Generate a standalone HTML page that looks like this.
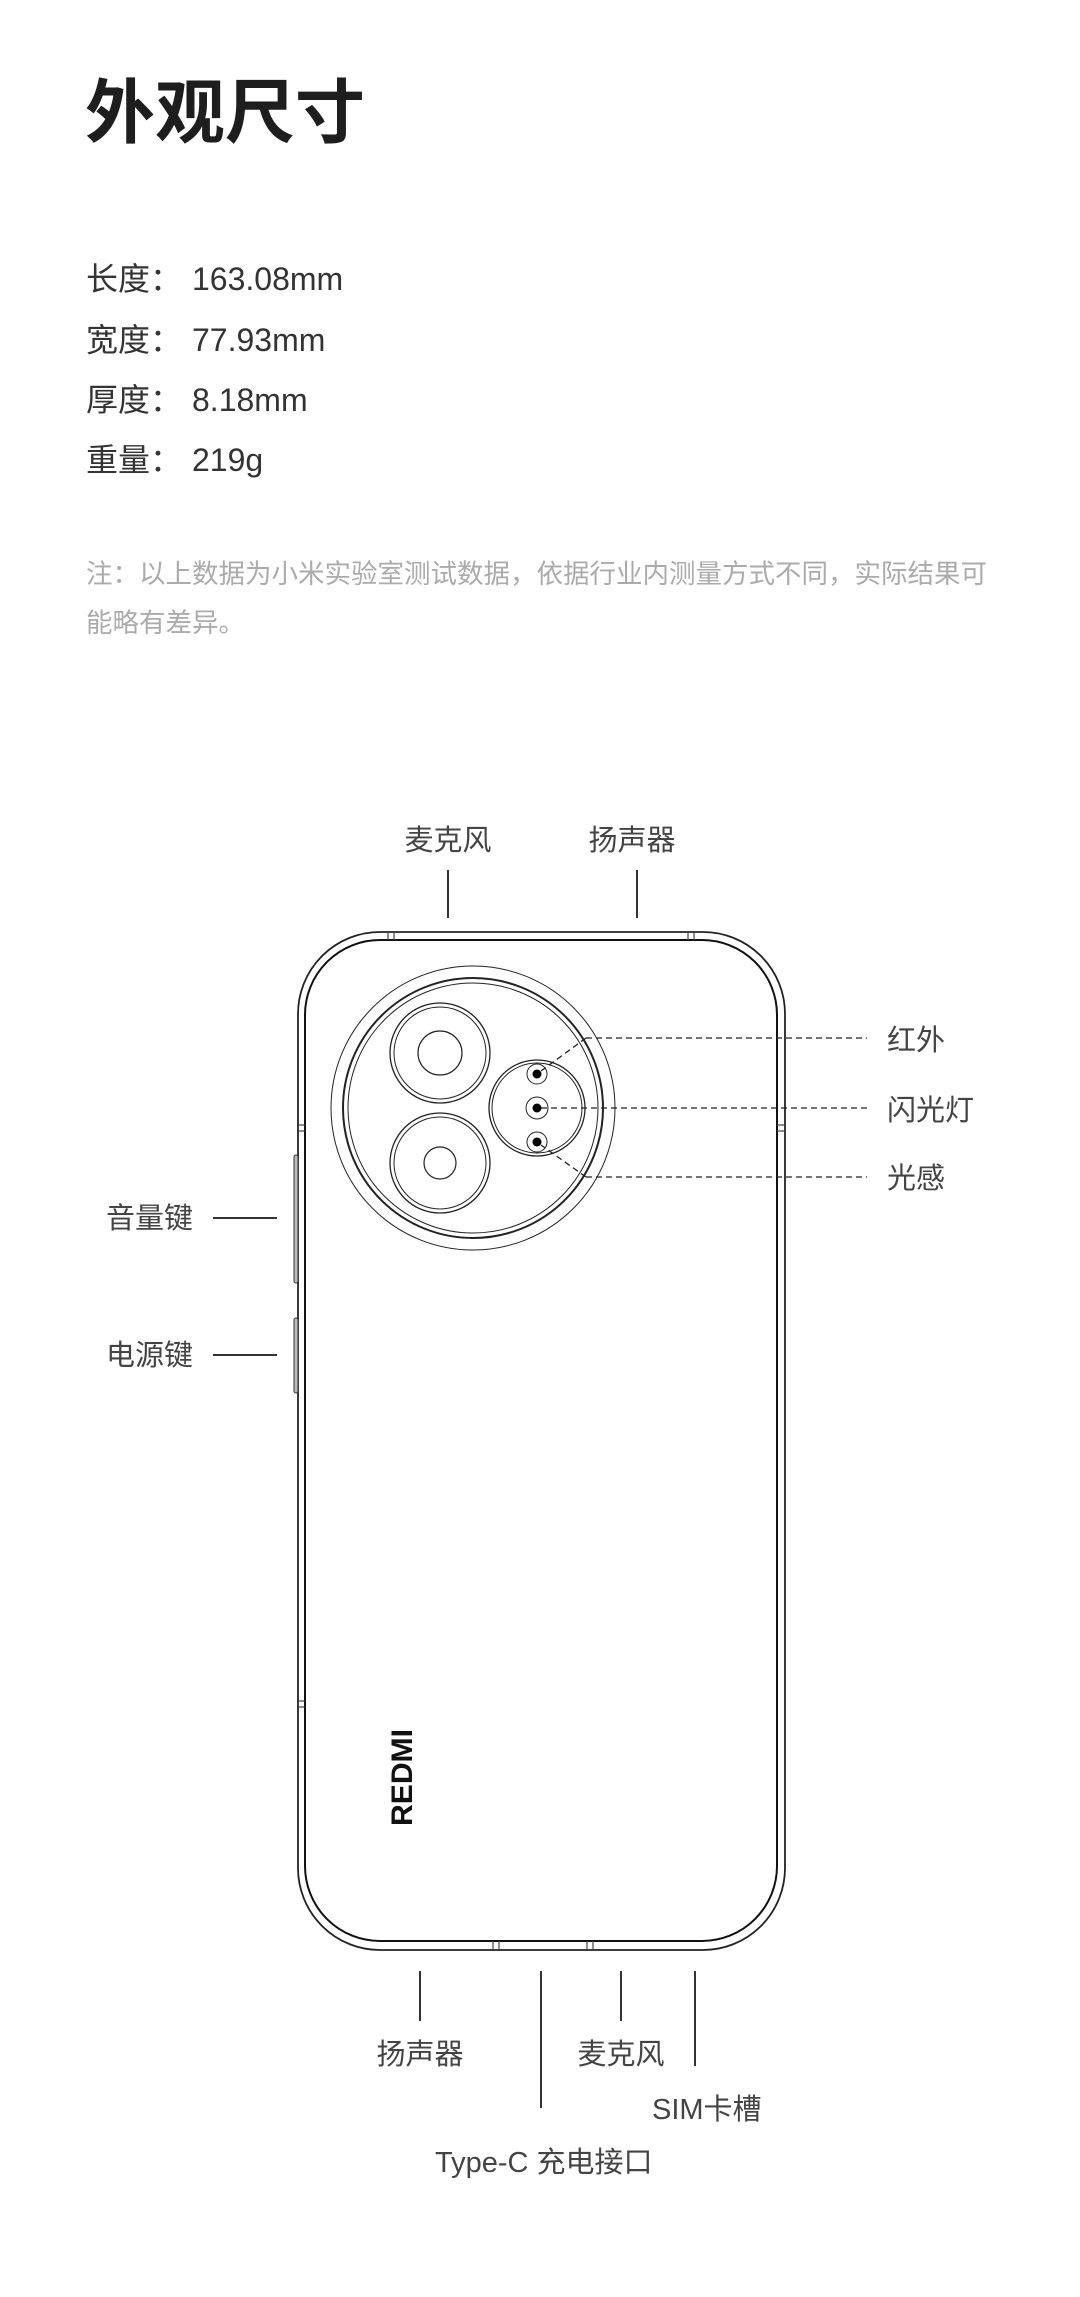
<!DOCTYPE html>
<html><head><meta charset="utf-8"><style>
html,body{margin:0;padding:0;background:#fff;}
svg{display:block;}
text{font-family:"Liberation Sans","Noto Sans CJK SC",sans-serif;}
</style></head><body>
<svg width="1080" height="2297" viewBox="0 0 1080 2297" xmlns="http://www.w3.org/2000/svg">
<rect width="1080" height="2297" fill="#fff"/>
<text x="85" y="137" font-size="70" font-weight="bold" fill="#1e1e1e">外观尺寸</text>
<g font-size="32" fill="#333">
<text x="86" y="290">长度：</text><text x="192" y="290">163.08mm</text>
<text x="86" y="351">宽度：</text><text x="192" y="351">77.93mm</text>
<text x="86" y="411">厚度：</text><text x="192" y="411">8.18mm</text>
<text x="86" y="471">重量：</text><text x="192" y="471">219g</text>
</g>
<g font-size="26.5" fill="#ababab">
<text x="86" y="583">注：以上数据为小米实验室测试数据，依据行业内测量方式不同，实际结果可</text>
<text x="86" y="632">能略有差异。</text>
</g>

<g fill="#444" font-size="29">
<text x="448" y="850" text-anchor="middle">麦克风</text>
<text x="632" y="850" text-anchor="middle">扬声器</text>
<text x="106" y="1228">音量键</text>
<text x="106" y="1365">电源键</text>
<text x="887" y="1050">红外</text>
<text x="887" y="1120">闪光灯</text>
<text x="887" y="1188">光感</text>
<text x="420" y="2064" text-anchor="middle">扬声器</text>
<text x="621" y="2064" text-anchor="middle">麦克风</text>
<text x="652" y="2119">SIM卡槽</text>
<text x="435" y="2172">Type-C 充电接口</text>
</g>

<g stroke="#333" stroke-width="2" fill="none">
<line x1="448" y1="870" x2="448" y2="918"/>
<line x1="637" y1="870" x2="637" y2="918"/>
<line x1="213" y1="1218" x2="277" y2="1218"/>
<line x1="213" y1="1355" x2="277" y2="1355"/>
<line x1="420" y1="1971" x2="420" y2="2021"/>
<line x1="541" y1="1971" x2="541" y2="2108"/>
<line x1="621" y1="1971" x2="621" y2="2021"/>
<line x1="695" y1="1971" x2="695" y2="2066"/>
</g>

<!-- phone body -->
<rect x="298" y="932" width="487" height="1018" rx="82" ry="82" fill="none" stroke="#222" stroke-width="1.8"/>
<rect x="305" y="940" width="472" height="1001" rx="75" ry="75" fill="none" stroke="#111" stroke-width="2"/>
<g stroke="#444" stroke-width="1.2">
<line x1="388" y1="932" x2="388" y2="940"/><line x1="394" y1="932" x2="394" y2="940"/>
<line x1="688" y1="932" x2="688" y2="940"/><line x1="694" y1="932" x2="694" y2="940"/>
<line x1="493" y1="1941" x2="493" y2="1950"/><line x1="499" y1="1941" x2="499" y2="1950"/>
<line x1="587" y1="1941" x2="587" y2="1950"/><line x1="593" y1="1941" x2="593" y2="1950"/>
<line x1="298" y1="1125" x2="305" y2="1125"/><line x1="298" y1="1131" x2="305" y2="1131"/>
<line x1="777" y1="1125" x2="785" y2="1125"/><line x1="777" y1="1131" x2="785" y2="1131"/>
<line x1="298" y1="1701" x2="305" y2="1701"/><line x1="298" y1="1707" x2="305" y2="1707"/>
</g>
<!-- side buttons -->
<rect x="294" y="1155" width="4" height="128" rx="2" fill="#bbb" stroke="#333" stroke-width="1"/>
<rect x="294" y="1318" width="4" height="75" rx="2" fill="#bbb" stroke="#333" stroke-width="1"/>

<!-- camera -->
<g fill="none" stroke="#222">
<circle cx="473" cy="1108" r="142" stroke-width="1"/>
<circle cx="473" cy="1108" r="130" stroke-width="2"/>
<circle cx="473" cy="1108" r="125" stroke-width="1"/>
<circle cx="440" cy="1053" r="50" stroke-width="1.3"/>
<circle cx="440" cy="1053" r="46" stroke-width="1"/>
<circle cx="440" cy="1053" r="22" stroke-width="1.2"/>
<circle cx="440" cy="1163" r="50" stroke-width="1.3"/>
<circle cx="440" cy="1163" r="46" stroke-width="1"/>
<circle cx="440" cy="1163" r="16" stroke-width="1.2"/>
<circle cx="537" cy="1108" r="48" stroke-width="1.3"/>
<circle cx="537" cy="1108" r="45" stroke-width="1"/>
<circle cx="537" cy="1074" r="10" stroke-width="1"/>
<circle cx="537" cy="1108" r="11" stroke-width="1"/>
<circle cx="537" cy="1142" r="10" stroke-width="1"/>
</g>
<g fill="#000">
<circle cx="537" cy="1074" r="4.5"/>
<circle cx="537" cy="1108" r="4.5"/>
<circle cx="537" cy="1142" r="4.5"/>
</g>
<g stroke="#222" stroke-width="1.3" stroke-dasharray="6,4" fill="none">
<line x1="586" y1="1038" x2="867" y2="1038"/>
<line x1="541" y1="1108" x2="867" y2="1108"/>
<line x1="586" y1="1177" x2="867" y2="1177"/>
<line x1="586" y1="1038" x2="541" y2="1071"/>
<line x1="586" y1="1177" x2="541" y2="1145"/>
</g>

<text transform="translate(412,1826) rotate(-90)" font-size="30" font-weight="bold" fill="#111" textLength="97" lengthAdjust="spacingAndGlyphs">REDMI</text>
</svg>
</body></html>
